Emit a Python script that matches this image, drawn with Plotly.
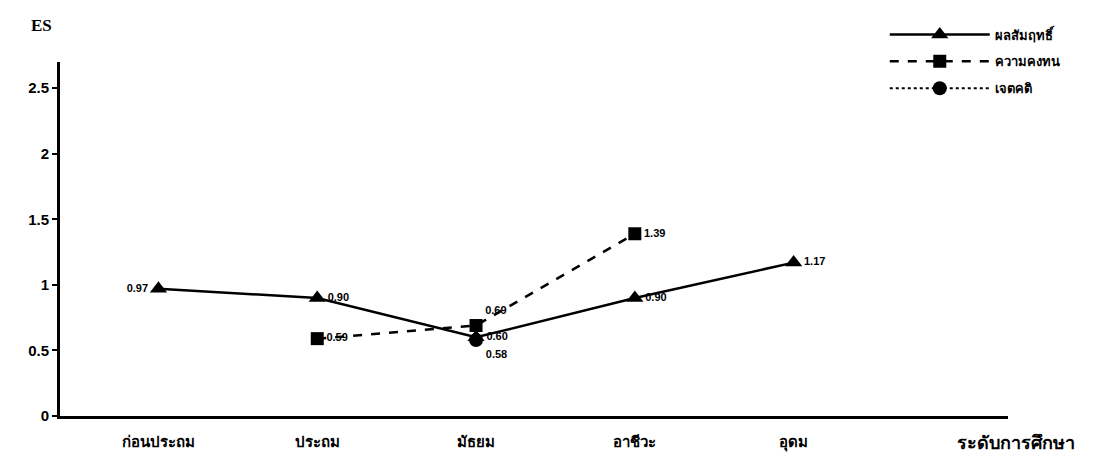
import plotly.graph_objects as go

categories = ["ก่อนประถม", "ประถม", "มัธยม", "อาชีวะ", "อุดม"]
achievement = [0.97, 0.90, 0.60, 0.90, 1.17]          # ผลสัมฤทธิ์
retention = [None, 0.59, 0.69, 1.39, None]             # ความคงทน
attitude = [None, None, 0.58, None, None]              # เจตคติ
y_ticks = [0, 0.5, 1, 1.5, 2, 2.5]
y_ticklabels = ["0", "0.5", "1", "1.5", "2", "2.5"]

xpos = list(range(len(categories)))
FONT = "Liberation Sans, Arial, sans-serif"


def labels(vals):
    return ["" if v is None else f"{v:.2f}" for v in vals]


fig = go.Figure()
ach_pos = ["middle left", "middle right", "middle right", "middle right", "middle right"]
fig.add_trace(go.Scatter(
    x=xpos, y=achievement, name="ผลสัมฤทธิ์", legendgroup="a", mode="lines+markers+text",
    line=dict(color="black", width=2.5, dash="solid"),
    marker=dict(symbol="triangle-up", size=15, color="black"),
    text=labels(achievement), textposition=ach_pos,
    textfont=dict(family=FONT, size=11, color="black", weight="bold"),
))
ret_pos = ["middle right", "middle right", "top right", "middle right", "middle right"]
fig.add_trace(go.Scatter(
    x=xpos, y=retention, name="ความคงทน", legendgroup="b", mode="lines+markers+text",
    line=dict(color="black", width=2.5, dash="dash"),
    marker=dict(symbol="square", size=13, color="black"),
    text=labels(retention), textposition=ret_pos,
    textfont=dict(family=FONT, size=11, color="black", weight="bold"),
))
fig.add_trace(go.Scatter(
    x=xpos, y=attitude, name="เจตคติ", legendgroup="c", mode="lines+markers+text",
    line=dict(color="black", width=2, dash="dot"),
    marker=dict(symbol="circle", size=14, color="black"),
    text=labels(attitude), textposition="bottom right",
    textfont=dict(family=FONT, size=11, color="black", weight="bold"),
))

fig.update_layout(
    width=1097, height=462,
    margin=dict(l=52, r=97, t=43, b=54),
    paper_bgcolor="white", plot_bgcolor="white",
    font=dict(family=FONT, color="black"),
    showlegend=True,
    legend=dict(
        x=0.87, y=1.12, xanchor="left", yanchor="top",
        bgcolor="rgba(0,0,0,0)", itemwidth=100, tracegroupgap=7,
        font=dict(family=FONT, size=13, color="black", weight="bold"),
    ),
    xaxis=dict(
        range=[-0.62, 5.35], tickvals=xpos, ticktext=categories,
        showline=True, linecolor="black", linewidth=3,
        showgrid=False, zeroline=False, ticks="", ticklabelstandoff=10,
        tickfont=dict(family=FONT, size=15, color="black", weight="bold"),
    ),
    yaxis=dict(
        range=[0, 2.7], tickvals=y_ticks, ticktext=y_ticklabels,
        showline=True, linecolor="black", linewidth=3,
        showgrid=False, zeroline=False, ticks="outside", ticklen=5,
        tickwidth=2, tickcolor="black",
        tickfont=dict(family=FONT, size=15, color="black", weight="bold"),
    ),
    annotations=[
        dict(text="ES", xref="paper", yref="paper", x=-0.02, y=1.07,
             xanchor="center", yanchor="bottom", showarrow=False,
             font=dict(family="Liberation Serif, serif", size=17, color="black", weight="bold")),
        dict(text="ระดับการศึกษา", xref="paper", yref="paper", x=1.008, y=-0.075,
             xanchor="center", yanchor="middle", showarrow=False,
             font=dict(family=FONT, size=18, color="black", weight="bold")),
    ],
)

fig.write_html("out.html")
